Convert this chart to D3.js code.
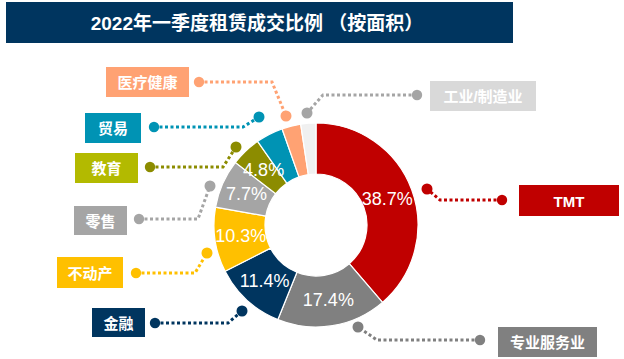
<!DOCTYPE html>
<html><head><meta charset="utf-8">
<script src="https://cdn.jsdelivr.net/npm/d3@7"></script>
<style>
html,body{margin:0;padding:0;background:#fff;}
svg{display:block;}
text{font-family:"Liberation Sans","Noto Sans CJK SC",Arial,sans-serif;}
</style></head>
<body><svg id="chart" width="624" height="359"></svg>
<script>
// ---- data ----
const title = "2022年一季度租赁成交比例 （按面积）";
const categories = ["TMT","专业服务业","金融","不动产","零售","教育","贸易","医疗健康","工业/制造业"];
const values = [38.7, 17.4, 11.4, 10.3, 7.7, 4.8, 4.3, 3.0, 2.4];
const shownLabels = ["38.7%","17.4%","11.4%","10.3%","7.7%","4.8%","","",""];
const sliceColors = ["#C00000","#808080","#00355F","#FFC000","#A5A5A5","#8C8C00","#0093B4","#FFA273","#F0F0F0"];
const boxColors   = ["#C00000","#808080","#00355F","#FFC000","#A5A5A5","#B3BA00","#0093B4","#FFA273","#D9D9D9"];
const dotColors   = ["#C00000","#808080","#00355F","#FFC000","#A5A5A5","#8C8C00","#0093B4","#FFA273","#A5A5A5"];
// ---- callout layout (box x,y,w,h ; outer dot ; elbow ; inner dot) ----
const calloutLayout = [
  {box:[519,185,100,31], dot:[502,200], elbow:[440,200], inner:[427,189]},
  {box:[498,327,99,30],  dot:[480,340], elbow:[377,340], inner:[358,327]},
  {box:[92,308,53,29],   dot:[155,323], elbow:[228,323], inner:[242,311]},
  {box:[57,257,66,31],   dot:[136,273], elbow:[195,273], inner:[207,253]},
  {box:[74,206,53,29],   dot:[139,219], elbow:[198,219], inner:[210,186]},
  {box:[75,153,63,30],   dot:[150,167], elbow:[223,167], inner:[236,147]},
  {box:[85,113,56,30],   dot:[154,127], elbow:[243,127], inner:[259,117]},
  {box:[106,67,83,30],   dot:[199,82],  elbow:[272,82],  inner:[286,116]},
  {box:[430,81,106,30],  dot:[417,95],  elbow:[323,95],  inner:[307,113]}
];

const svg = d3.select("#chart");

// title bar
svg.append("rect").attr("x",6).attr("y",2).attr("width",507).attr("height",41).attr("fill","#00355F");
svg.append("text").attr("x",257).attr("y",23).attr("text-anchor","middle").attr("dominant-baseline","central")
  .attr("fill","#fff").attr("font-size",19).attr("font-weight","bold").text(title);

const cx = 316, cy = 225, R = 102, r = 51;
const data = categories.map((c,i)=>({cat:c, value:values[i], i}));
const pie = d3.pie().value(d=>d.value).sort(null);
const arcs = pie(data);
const arc = d3.arc().innerRadius(r).outerRadius(R);
const labelArc = d3.arc().innerRadius(76).outerRadius(76);

const g = svg.append("g").attr("transform",`translate(${cx},${cy})`);
g.selectAll("path.slice").data(arcs).enter().append("path")
  .attr("class","slice").attr("d",arc)
  .attr("fill",d=>sliceColors[d.data.i]).attr("stroke","#fff").attr("stroke-width",1.2);

g.selectAll("text.pct").data(arcs).enter().append("text")
  .attr("class","pct")
  .attr("transform",d=>`translate(${labelArc.centroid(d)})`)
  .attr("text-anchor","middle").attr("dominant-baseline","central")
  .attr("fill","#fff").attr("font-size",18)
  .text(d=>shownLabels[d.data.i]);

// callouts
const co = svg.append("g");
calloutLayout.forEach((L,i)=>{
  const line = d3.line();
  co.append("path").attr("d", line([L.dot, L.elbow, L.inner]))
    .attr("fill","none").attr("stroke",dotColors[i]).attr("stroke-width",3)
    .attr("stroke-dasharray","3,2.5");
  co.append("circle").attr("cx",L.dot[0]).attr("cy",L.dot[1]).attr("r",5.2).attr("fill",dotColors[i]);
  co.append("circle").attr("cx",L.inner[0]).attr("cy",L.inner[1]).attr("r",5.5).attr("fill",dotColors[i]);
  co.append("rect").attr("x",L.box[0]).attr("y",L.box[1]).attr("width",L.box[2]).attr("height",L.box[3])
    .attr("fill",boxColors[i]);
  co.append("text").attr("x",L.box[0]+L.box[2]/2).attr("y",L.box[1]+L.box[3]/2+0.5)
    .attr("text-anchor","middle").attr("dominant-baseline","central")
    .attr("fill","#fff").attr("font-size",15).attr("font-weight","bold")
    .text(categories[i]);
});
</script></body></html>
